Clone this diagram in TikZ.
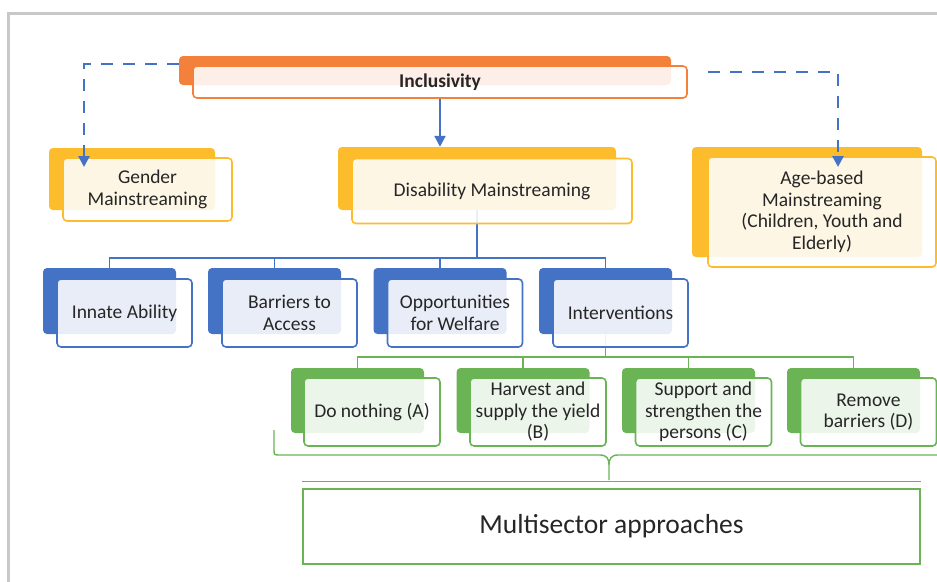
\documentclass[tikz,border=0pt]{standalone}
\usepackage{fontspec}
\setmainfont{Carlito}
\usetikzlibrary{arrows.meta}

\definecolor{incorange}{HTML}{F4813B}
\definecolor{mainyellow}{HTML}{FCBC2C}
\definecolor{mainblue}{HTML}{4472C4}
\definecolor{maingreen}{HTML}{6AB456}
\definecolor{framegray}{HTML}{C8C8C8}
\definecolor{inktext}{HTML}{262626}

\tikzset{
  backbox/.style={rounded corners=4pt, fill=#1, draw=none, inner sep=0pt},
  frontbox/.style={rounded corners=4pt, draw=#1, line width=1.6pt, fill=white,
    fill opacity=0.88, text opacity=1, text=inktext, align=center, inner sep=0pt,
    font=\fontsize{19.5}{21.5}\selectfont},
  tree/.style={draw=#1, line width=1.4pt},
  dashlink/.style={draw=mainblue, line width=2.8pt, dash pattern=on 12pt off 10pt,
    -{Triangle[length=11pt,width=11pt]}},
}

\begin{document}
\begin{tikzpicture}[x=1pt, y=-1pt]
    \useasboundingbox (0,0) rectangle (937,581);

    % ---frame
    \draw[framegray, line width=3pt] (8,590) -- (8,13) -- (945,13);

    % ---top level
    \node[backbox=incorange, minimum width=492pt, minimum height=29pt] (incb) at (425,70.5) {};
    \node[backbox=mainyellow, minimum width=166pt, minimum height=62pt] (genb) at (132,179) {};
    \node[backbox=mainyellow, minimum width=278pt, minimum height=63pt] (disb) at (477,178.5) {};
    \node[backbox=mainyellow, minimum width=230pt, minimum height=110pt] (ageb) at (807,202) {};

    % ---second and third rows (back layer)
    \foreach \name/\bx in {inn/109.5, bar/274.5, opp/440, int/605.5}
        \node[backbox=mainblue, minimum width=133pt, minimum height=66pt] (\name-b) at (\bx,301) {};
    \foreach \name/\bx in {nil/357.5, har/523, sup/688.5, rem/853.5}
        \node[backbox=maingreen, minimum width=133pt, minimum height=65pt] (\name-b) at (\bx,400.5) {};

    % ---connectors
    \draw[tree=mainblue] (disb.south) -- (disb.south |- 0,258);
    \draw[tree=mainblue] (inn-b.north) -- ++(0,-10) -| (int-b.north);
    \foreach \n in {bar, opp}
        \draw[tree=mainblue] (\n-b.north) -- ++(0,-10);

    \draw[tree=maingreen] (int-b.south) -- (int-b.south |- 0,357);
    \draw[tree=maingreen] (nil-b.north) -- ++(0,-11) -| (rem-b.north);
    \foreach \n in {har, sup}
        \draw[tree=maingreen] (\n-b.north) -- ++(0,-11);

    % ---front layer
    \node[frontbox=incorange, minimum width=494pt, minimum height=32pt, font=\fontsize{19.5}{21.5}\selectfont\bfseries] (inc) at (440,82) {Inclusivity};
    \node[frontbox=mainyellow, minimum width=169pt, minimum height=63pt] (gen) at (147.5,189.5) {Gender\\Mainstreaming};
    \node[frontbox=mainyellow, minimum width=280pt, minimum height=65pt] (dis) at (492,191) {Disability Mainstreaming};
    \node[frontbox=mainyellow, minimum width=228pt, minimum height=110pt] (age) at (822,212) {Age-based\\Mainstreaming\\(Children, Youth and\\Elderly)};

    \foreach \name/\bx/\txt in {inn/124.5/{Innate Ability}, bar/289.5/{Barriers to\\Access},
                                opp/455/{Opportunities\\for Welfare}, int/620.5/{Interventions}}
        \node[frontbox=mainblue, minimum width=135pt, minimum height=68pt] (\name) at (\bx,313) {\txt};
    \foreach \name/\bx/\txt in {nil/372/{Do nothing (A)}, har/538/{Harvest and\\supply the yield\\(B)},
                                sup/703.5/{Support and\\strengthen the\\persons (C)}, rem/868.5/{Remove\\barriers (D)}}
        \node[frontbox=maingreen, minimum width=136pt, minimum height=68pt] (\name) at (\bx,412) {\txt};

    % ---links from the top
    \coordinate (genin) at (84,167);
    \coordinate (agein) at (838,167);
    \draw[dashlink] ([yshift=6.5pt]incb.west) -| (genin);
    \draw[dashlink] ([xshift=20pt,yshift=10pt]inc.east) -| (agein);
    \draw[draw=mainblue, line width=2.2pt, -{Triangle[length=11pt,width=11pt]}] (inc.south) -- (inc.south |- disb.north);

    % ---brace and approaches
    \node[draw=maingreen, line width=1.6pt, minimum width=617pt, minimum height=75pt, inner sep=0pt,
          text=inktext, font=\fontsize{27.5}{32}\selectfont] (multi) at (611.5,526.5) {Multisector approaches};
    \draw[tree=maingreen] ([yshift=7pt]multi.north west) -- ([yshift=7pt]multi.north east);

    \coordinate (brl) at (274,430);
    \coordinate (brtip) at (609,480);
    \coordinate (brr) at (944,430);
    \draw[tree=maingreen] (brl) -- (274,449) .. controls (274,455) .. (280,455) -- (600,455)
        .. controls (607,455) and (609,459) .. (609,465) -- (brtip)
        (609,465) .. controls (609,459) and (611,455) .. (618,455) -- (938,455)
        .. controls (944,455) .. (944,449) -- (brr);
\end{tikzpicture}
\end{document}
